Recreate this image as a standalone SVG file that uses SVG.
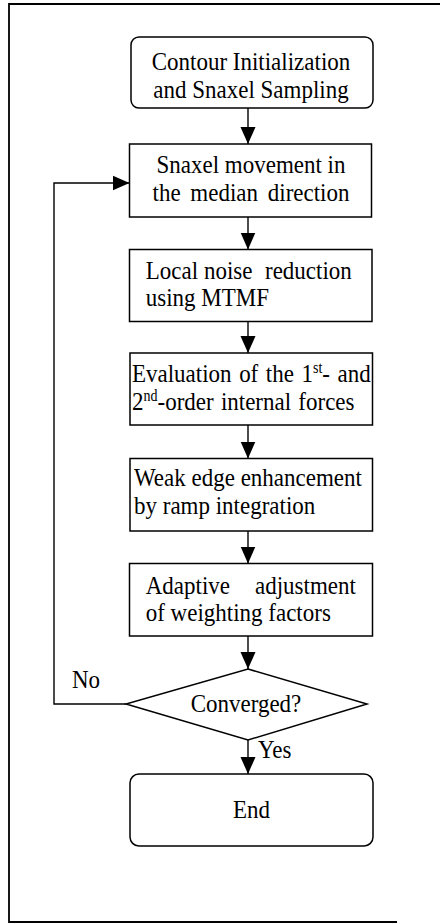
<svg xmlns="http://www.w3.org/2000/svg" width="440" height="924" viewBox="0 0 440 924">
<style>
.box{fill:#fff;stroke:#000;stroke-width:1.5}
.t{font-family:"Liberation Serif","Times New Roman",serif;font-size:23px;fill:#000}
.c{text-anchor:middle}
.sup{font-size:14px}
.edge{fill:none;stroke:#000;stroke-width:1.4}
.frame{fill:none;stroke:#000;stroke-width:1.8}
</style>
<defs>
<marker id="ah" markerUnits="userSpaceOnUse" markerWidth="17" markerHeight="16" viewBox="0 0 17 16" refX="17" refY="8" orient="auto">
<path d="M0,0.5 L17,8 L0,15.5 Z" fill="#000"/>
</marker>
</defs>
<rect width="440" height="924" fill="#fff"/>
<path class="frame" d="M440,4 H9 V922 H397"/>

<g id="connectors">
<path class="edge" d="M248,108 V144" marker-end="url(#ah)"/>
<path class="edge" d="M248,217 V249.5" marker-end="url(#ah)"/>
<path class="edge" d="M248,321.5 V353" marker-end="url(#ah)"/>
<path class="edge" d="M248,425 V458.5" marker-end="url(#ah)"/>
<path class="edge" d="M248,531 V563.5" marker-end="url(#ah)"/>
<path class="edge" d="M248,636 V669" marker-end="url(#ah)"/>
<path class="edge" d="M248,740 V774" marker-end="url(#ah)"/>
<path class="edge" d="M126,704 H54 V183 H129.5" marker-end="url(#ah)"/>
<text class="t" transform="translate(0,688) scale(1,1.12)" x="72" y="0">No</text>
<text class="t" transform="translate(0,758) scale(1,1.12)" x="258" y="0">Yes</text>
</g>

<g id="n1">
<rect class="box" x="131" y="37" width="242" height="71" rx="8"/>
<text class="t c" transform="translate(0,70) scale(1,1.12)" x="251" y="0">Contour Initialization</text>
<text class="t c" transform="translate(0,98) scale(1,1.12)" x="251" y="0">and Snaxel Sampling</text>
</g>

<g id="n2">
<rect class="box" x="129.5" y="144" width="242" height="73"/>
<text class="t c" transform="translate(0,173) scale(1,1.12)" x="251" y="0">Snaxel movement in</text>
<text class="t c" transform="translate(0,201) scale(1,1.12)" x="251" y="0" word-spacing="4">the median direction</text>
</g>

<g id="n3">
<rect class="box" x="129.5" y="249.5" width="242.5" height="72"/>
<text class="t" transform="translate(0,278.5) scale(1,1.12)" y="0"><tspan x="145.7">Local</tspan><tspan x="204">noise</tspan><tspan x="265">reduction</tspan></text>
<text class="t" transform="translate(0,306) scale(1,1.12)" x="145.7" y="0">using MTMF</text>
</g>

<g id="n4">
<rect class="box" x="130" y="353" width="242.5" height="72"/>
<text class="t" transform="translate(0,382) scale(1,1.12)" x="132" y="0" word-spacing="1.8">Evaluation of the 1<tspan class="sup" dy="-8">st</tspan><tspan dy="8">- and</tspan></text>
<text class="t" transform="translate(0,410) scale(1,1.12)" x="132" y="0" word-spacing="1.5">2<tspan class="sup" dy="-8">nd</tspan><tspan dy="8">-order internal forces</tspan></text>
</g>

<g id="n5">
<rect class="box" x="130" y="458.5" width="242.5" height="72.5"/>
<text class="t" transform="translate(0,486) scale(1,1.12)" x="134" y="0">Weak edge enhancement</text>
<text class="t" transform="translate(0,514) scale(1,1.12)" x="134" y="0">by ramp integration</text>
</g>

<g id="n6">
<rect class="box" x="129.5" y="563.5" width="243" height="72.5"/>
<text class="t" transform="translate(0,593.5) scale(1,1.12)" y="0"><tspan x="145.7">Adaptive</tspan><tspan x="255">adjustment</tspan></text>
<text class="t" transform="translate(0,621) scale(1,1.12)" x="145.7" y="0">of weighting factors</text>
</g>

<g id="n7">
<polygon class="box" points="248,669 367,704 248,740 126,704"/>
<text class="t c" transform="translate(0,711.5) scale(1,1.12)" x="246" y="0">Converged?</text>
</g>

<g id="n8">
<rect class="box" x="130" y="774" width="243" height="72" rx="9"/>
<text class="t c" transform="translate(0,818) scale(1,1.12)" x="251.5" y="0">End</text>
</g>
</svg>
